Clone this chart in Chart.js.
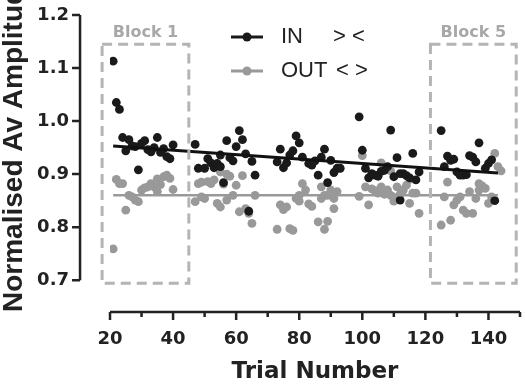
<!DOCTYPE html>
<html>
<head>
<meta charset="utf-8">
<script src="https://cdn.jsdelivr.net/npm/chart.js@4.4.0/dist/chart.umd.min.js"></script>
<style>
  html, body { margin: 0; padding: 0; background: #fff; }
  #wrap { width: 525px; height: 386px; position: relative; }
</style>
</head>
<body>
<div id="wrap"><canvas id="amp"></canvas></div>
<script>
// IN (> <) trials
const inTrials = [21, 22, 23, 24, 25, 26, 27, 28, 29, 30, 31, 32, 33, 34, 35, 36, 37, 38, 39, 40,
  47, 48, 50, 51, 52, 53, 54, 55, 55, 56, 57, 58, 59, 60, 61, 62, 63, 64, 65, 66,
  73, 74, 75, 76, 77, 78, 79, 80, 81, 83, 84, 85, 86, 87, 88, 89, 90, 91, 92, 93,
  99, 100, 101, 102, 103, 104, 105, 106, 107, 108, 109, 110, 111, 112, 112, 113, 114, 115, 116, 117, 118,
  125, 126, 127, 128, 129, 130, 131, 132, 133, 134, 135, 136, 137, 139, 140, 141, 142];
const inValues = [1.113, 1.035, 1.022, 0.969, 0.944, 0.965, 0.953, 0.952, 0.908, 0.958, 0.963, 0.946, 0.942, 0.950, 0.969, 0.941, 0.948, 0.933, 0.929, 0.955,
  0.956, 0.911, 0.911, 0.929, 0.921, 0.912, 0.920, 0.936, 0.914, 0.884, 0.963, 0.931, 0.925, 0.952, 0.982, 0.965, 0.938, 0.830, 0.924, 0.898,
  0.923, 0.947, 0.912, 0.921, 0.936, 0.944, 0.972, 0.959, 0.932, 0.920, 0.917, 0.925, 0.898, 0.932, 0.947, 0.884, 0.926, 0.903, 0.911, 0.911,
  1.008, 0.945, 0.911, 0.893, 0.901, 0.898, 0.896, 0.905, 0.907, 0.914, 0.983, 0.895, 0.931, 0.901, 0.851, 0.901, 0.897, 0.893, 0.939, 0.889, 0.904,
  0.982, 0.914, 0.934, 0.926, 0.928, 0.904, 0.898, 0.898, 0.899, 0.935, 0.932, 0.923, 0.959, 0.911, 0.920, 0.927, 0.850];

// OUT (< >) trials
const outTrials = [21, 22, 23, 24, 25, 26, 27, 28, 29, 30, 31, 32, 33, 34, 35, 35, 36, 37, 38, 39, 40,
  47, 48, 49, 49, 50, 51, 52, 53, 54, 55, 55, 56, 57, 57, 58, 59, 60, 61, 62, 63, 64, 65, 66,
  73, 74, 75, 76, 77, 78, 79, 80, 80, 81, 82, 83, 84, 86, 87, 87, 88, 88, 89, 89, 90, 91, 91, 92,
  99, 100, 101, 102, 103, 104, 105, 106, 106, 107, 108, 109, 109, 110, 110, 111, 112, 113, 114, 115, 115, 116, 117, 118,
  125, 126, 127, 128, 129, 130, 131, 132, 133, 134, 135, 136, 137, 137, 138, 139, 140, 141, 142, 143, 144];
const outValues = [0.759, 0.890, 0.882, 0.882, 0.832, 0.860, 0.857, 0.851, 0.848, 0.870, 0.874, 0.876, 0.882, 0.876, 0.891, 0.867, 0.880, 0.895, 0.898, 0.892, 0.871,
  0.848, 0.882, 0.857, 0.885, 0.854, 0.886, 0.882, 0.889, 0.845, 0.838, 0.904, 0.881, 0.851, 0.900, 0.896, 0.860, 0.879, 0.829, 0.897, 0.835, 0.826, 0.807, 0.860,
  0.796, 0.842, 0.833, 0.838, 0.797, 0.794, 0.854, 0.849, 0.860, 0.882, 0.870, 0.844, 0.839, 0.810, 0.854, 0.876, 0.796, 0.860, 0.811, 0.860, 0.870, 0.835, 0.854, 0.867,
  0.858, 0.935, 0.876, 0.842, 0.872, 0.869, 0.864, 0.921, 0.876, 0.862, 0.870, 0.906, 0.860, 0.849, 0.856, 0.876, 0.862, 0.870, 0.879, 0.890, 0.845, 0.864, 0.864, 0.826,
  0.804, 0.857, 0.885, 0.813, 0.842, 0.851, 0.857, 0.832, 0.826, 0.867, 0.826, 0.854, 0.870, 0.882, 0.878, 0.873, 0.845, 0.857, 0.939, 0.914, 0.906];

// linear fits
const inFitTrials = [21, 143];
const inFitValues = [0.953, 0.902];
const outFitTrials = [21, 143];
const outFitValues = [0.860, 0.860];

const xTicks = [20, 40, 60, 80, 100, 120, 140];
const yTicks = [0.7, 0.8, 0.9, 1.0, 1.1, 1.2];

// dashed block outlines (trial range, amplitude range)
const blockNames = ['Block 1', 'Block 5'];
const blockStart = [17.5, 121.6];
const blockEnd = [45, 148.8];
const blockTop = 1.145;
const blockBottom = 0.694;

// detached axes: the x axis sits at y = 0.64, the y axis at x = 10.5
const xAxisLevel = 0.64;
const yAxisLevel = 10.5;
const xAxisEnd = 150;

const pts = (xs, ys) => xs.map((t, i) => ({ x: t, y: ys[i] }));

const prismAxes = {
    id: 'prismAxes',
    afterDraw(chart) {
        const { ctx, scales: { x, y } } = chart;
        ctx.save();

        // block boxes
        ctx.strokeStyle = '#b4b4b4';
        ctx.lineWidth = 3;
        ctx.setLineDash([10, 6]);
        for (let i = 0; i < blockNames.length; i++) {
            const l = x.getPixelForValue(blockStart[i]), r = x.getPixelForValue(blockEnd[i]);
            const t = y.getPixelForValue(blockTop), b = y.getPixelForValue(blockBottom);
            ctx.strokeRect(l, t, r - l, b - t);
            ctx.fillStyle = '#a8a8a8';
            ctx.font = 'bold 16px "DejaVu Sans"';
            ctx.textAlign = 'center';
            ctx.textBaseline = 'alphabetic';
            ctx.fillText(blockNames[i], (l + r) / 2, t - 7);
        }
        ctx.setLineDash([]);

        // y axis
        ctx.strokeStyle = '#222';
        ctx.lineWidth = 2.5;
        const ax = x.getPixelForValue(yAxisLevel);
        ctx.beginPath();
        ctx.moveTo(ax, y.getPixelForValue(yTicks[0]));
        ctx.lineTo(ax, y.getPixelForValue(yTicks[yTicks.length - 1]));
        yTicks.forEach(v => {
            const py = y.getPixelForValue(v);
            ctx.moveTo(ax, py);
            ctx.lineTo(ax - 8, py);
        });
        ctx.stroke();

        // x axis, minor ticks every 10, labels under the majors
        const ay = y.getPixelForValue(xAxisLevel);
        ctx.beginPath();
        ctx.moveTo(x.getPixelForValue(xTicks[0]), ay);
        ctx.lineTo(x.getPixelForValue(xAxisEnd), ay);
        for (let t = xTicks[0]; t <= xAxisEnd; t += 10) {
            const px = x.getPixelForValue(t);
            ctx.moveTo(px, ay);
            ctx.lineTo(px, ay + (t % 20 == 0 ? 8 : 5));
        }
        ctx.stroke();
        ctx.fillStyle = '#222';
        ctx.font = 'bold 18px "DejaVu Sans"';
        ctx.textAlign = 'center';
        ctx.textBaseline = 'middle';
        xTicks.forEach(v => ctx.fillText(String(v), x.getPixelForValue(v), ay + 27));

        // legend
        const rows = [
            { color: '#1a1a1a', y: 37, name: 'IN', sym: '> <', sx: 333 },
            { color: '#999999', y: 71, name: 'OUT', sym: '< >', sx: 336 }
        ];
        rows.forEach(r => {
            ctx.strokeStyle = r.color;
            ctx.lineWidth = 3;
            ctx.beginPath();
            ctx.moveTo(231, r.y);
            ctx.lineTo(263, r.y);
            ctx.stroke();
            ctx.fillStyle = r.color;
            ctx.beginPath();
            ctx.arc(247, r.y, 4.5, 0, Math.PI * 2);
            ctx.fill();
            ctx.fillStyle = '#222';
            ctx.font = '22px "Liberation Sans"';
            ctx.textAlign = 'left';
            ctx.textBaseline = 'middle';
            ctx.fillText(r.name, 281, r.y);
            ctx.fillText(r.sym, r.sx, r.y);
        });
        ctx.restore();
    }
};

const ctx = document.getElementById('amp').getContext('2d');
const chart = new Chart(ctx, {
    type: 'scatter',
    data: {
        datasets: [{
            type: 'line',
            data: pts(inFitTrials, inFitValues),
            borderColor: '#111',
            borderWidth: 3,
            pointRadius: 0
        }, {
            type: 'line',
            data: pts(outFitTrials, outFitValues),
            borderColor: '#999',
            borderWidth: 2.5,
            pointRadius: 0
        }, {
            label: 'IN',
            data: pts(inTrials, inValues),
            backgroundColor: '#1a1a1a',
            borderWidth: 0,
            pointRadius: 4.4
        }, {
            label: 'OUT',
            data: pts(outTrials, outValues),
            backgroundColor: '#999999',
            borderWidth: 0,
            pointRadius: 4.4
        }]
    },
    options: {
        responsive: true,
        maintainAspectRatio: false,
        animation: false,
        layout: { padding: { top: 15, right: 5, left: 0, bottom: 0 } },
        plugins: {
            legend: { display: false },
            tooltip: { enabled: false }
        },
        scales: {
            x: {
                type: 'linear',
                min: xTicks[0],
                max: xAxisEnd,
                grid: { display: false, drawTicks: false },
                border: { display: false },
                afterFit: s => { s.height = 74; s.paddingLeft = 0; s.paddingRight = 0; },
                // tick labels are drawn by the plugin under the detached axis
                ticks: { display: false },
                title: {
                    display: true,
                    text: 'Trial Number',
                    color: '#222',
                    padding: 0,
                    font: { family: 'DejaVu Sans', size: 23, weight: 'bold' }
                }
            },
            y: {
                min: xAxisLevel,
                max: 1.2,
                grid: { display: false, drawTicks: false },
                border: { display: false },
                afterBuildTicks: s => { s.ticks = yTicks.map(v => ({ value: v })); },
                afterFit: s => { s.width = 110; s.paddingTop = 0; s.paddingBottom = 0; },
                ticks: {
                    padding: 41,
                    color: '#222',
                    callback: v => v.toFixed(1),
                    font: { family: 'DejaVu Sans', size: 18, weight: 'bold' }
                },
                title: {
                    display: true,
                    text: 'Normalised Av Amplitude',
                    align: 'start',
                    color: '#222',
                    padding: 0,
                    font: { family: 'Liberation Sans', size: 28, weight: 'bold', lineHeight: 1 }
                }
            }
        }
    },
    plugins: [prismAxes]
});
</script>
</body>
</html>
